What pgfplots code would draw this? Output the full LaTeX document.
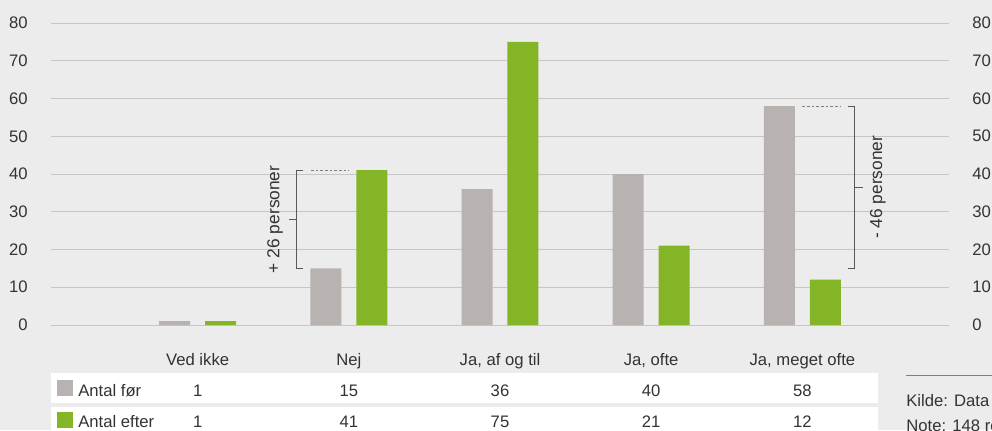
\documentclass[border=0pt]{standalone}
\usepackage{pgfplots}
\pgfplotsset{compat=1.18}
\usepackage{fontspec}
\setmainfont{Liberation Sans}

\definecolor{bgc}{HTML}{ECECEC}
\definecolor{gridc}{HTML}{CAC5C5}
\definecolor{grayc}{HTML}{B8B3B0}
\definecolor{greenc}{HTML}{84B526}
\definecolor{textc}{HTML}{333333}
\definecolor{brc}{HTML}{595959}
\definecolor{dotc}{HTML}{7F7F7F}

\newcommand{\fs}{\fontsize{12.5}{15}\selectfont}

\begin{document}
\begin{tikzpicture}
\useasboundingbox (0,0) rectangle (744pt,322.5pt);
\clip (0,0) rectangle (744pt,322.5pt);
\fill[bgc] (0,0) rectangle (744pt,322.5pt);

% right-hand tick labels
\begin{axis}[
   at={(38.25pt,78.75pt)}, anchor=south west,
   width=673.5pt, height=226.5pt, scale only axis,
   xmin=0.03, xmax=5.97, ymin=0, ymax=80,
   ytick={0,10,...,80},
   axis y line*=right, axis x line=none,
   axis line style={draw=none}, major tick length=0pt,
   /pgf/number format/assume math mode=true,
   yticklabel style={anchor=west, inner sep=0pt, xshift=17.25pt,
      font=\fs, text=textc},
]
\addplot[draw=none] coordinates {(1,0)};
\end{axis}

\begin{axis}[
   at={(38.25pt,78.75pt)}, anchor=south west,
   width=673.5pt, height=226.5pt, scale only axis,
   xmin=0.03, xmax=5.97, ymin=0, ymax=80,
   ytick={0,10,...,80}, xtick={1,...,5},
   xticklabels={Ved ikke, Nej, {Ja, af og til}, {Ja, ofte}, {Ja, meget ofte}},
   ymajorgrids, grid style={gridc, line width=0.75pt},
   axis line style={draw=none}, major tick length=0pt,
   /pgf/number format/assume math mode=true,
   tick label style={font=\fs, text=textc},
   yticklabel style={anchor=east, inner sep=0pt, xshift=-17.25pt},
   xticklabel style={anchor=base, inner sep=0pt, yshift=-30pt},
   clip=false,
]
\addplot[ybar, bar width=0.205, bar shift=-0.152, fill=grayc, draw=none]
   coordinates {(1,1) (2,15) (3,36) (4,40) (5,58)};
\addplot[ybar, bar width=0.205, bar shift=0.152, fill=greenc, draw=none]
   coordinates {(1,1) (2,41) (3,75) (4,21) (5,12)};

% + 26 personer
\draw[brc, line width=0.75pt] (axis cs:1.697,15) -- (axis cs:1.651,15)
   -- (axis cs:1.651,41) -- (axis cs:1.697,41);
\draw[brc, line width=0.75pt] (axis cs:1.651,28) -- (axis cs:1.604,28);
\draw[dotc, line width=0.75pt, dash pattern=on 2pt off 1.5pt]
   (axis cs:1.750,41) -- (axis cs:2.0,41);
\node[rotate=90, font=\fontsize{13}{15}\selectfont, text=textc]
   at (axis cs:1.512,28) {+ 26 personer};

% - 46 personer
\draw[brc, line width=0.75pt] (axis cs:5.302,58) -- (axis cs:5.348,58)
   -- (axis cs:5.348,15) -- (axis cs:5.302,15);
\draw[brc, line width=0.75pt] (axis cs:5.348,36.5) -- (axis cs:5.401,36.5);
\draw[dotc, line width=0.75pt, dash pattern=on 2pt off 1.5pt]
   (axis cs:5.0,58) -- (axis cs:5.25,58);
\node[rotate=90, font=\fontsize{13}{15}\selectfont, text=textc]
   at (axis cs:5.50,36.5) {- 46 personer};

% table below
\fill[white] (axis cs:0.03,-12.72) rectangle (axis cs:5.50,-20.66);
\fill[white] (axis cs:0.03,-21.72) rectangle (axis cs:5.50,-32);
\fill[grayc] (axis cs:0.0697,-14.57) rectangle (axis cs:0.1755,-18.81);
\fill[greenc] (axis cs:0.0697,-23.05) rectangle (axis cs:0.1755,-27.28);
\node[anchor=base west, inner sep=0pt, font=\fs, text=textc]
   at (axis cs:0.2086,-18.81) {Antal før};
\node[anchor=base west, inner sep=0pt, font=\fs, text=textc]
   at (axis cs:0.2086,-27.28) {Antal efter};
\node[anchor=base, inner sep=0pt, font=\fs, text=textc] at (axis cs:1,-18.81) {1};
\node[anchor=base, inner sep=0pt, font=\fs, text=textc] at (axis cs:2,-18.81) {15};
\node[anchor=base, inner sep=0pt, font=\fs, text=textc] at (axis cs:3,-18.81) {36};
\node[anchor=base, inner sep=0pt, font=\fs, text=textc] at (axis cs:4,-18.81) {40};
\node[anchor=base, inner sep=0pt, font=\fs, text=textc] at (axis cs:5,-18.81) {58};
\node[anchor=base, inner sep=0pt, font=\fs, text=textc] at (axis cs:1,-27.28) {1};
\node[anchor=base, inner sep=0pt, font=\fs, text=textc] at (axis cs:2,-27.28) {41};
\node[anchor=base, inner sep=0pt, font=\fs, text=textc] at (axis cs:3,-27.28) {75};
\node[anchor=base, inner sep=0pt, font=\fs, text=textc] at (axis cs:4,-27.28) {21};
\node[anchor=base, inner sep=0pt, font=\fs, text=textc] at (axis cs:5,-27.28) {12};

% source note
\draw[dotc, line width=0.75pt] (axis cs:5.686,-13.25) -- (axis cs:7,-13.25);
\node[anchor=base west, inner sep=0pt, font=\fs, text=textc]
   at (axis cs:5.686,-21.72) {Kilde: Data fra undersøgelsen};
\node[anchor=base west, inner sep=0pt, font=\fs, text=textc]
   at (axis cs:5.686,-28.08) {Note: 148 respondenter};
\end{axis}
\end{tikzpicture}
\end{document}
